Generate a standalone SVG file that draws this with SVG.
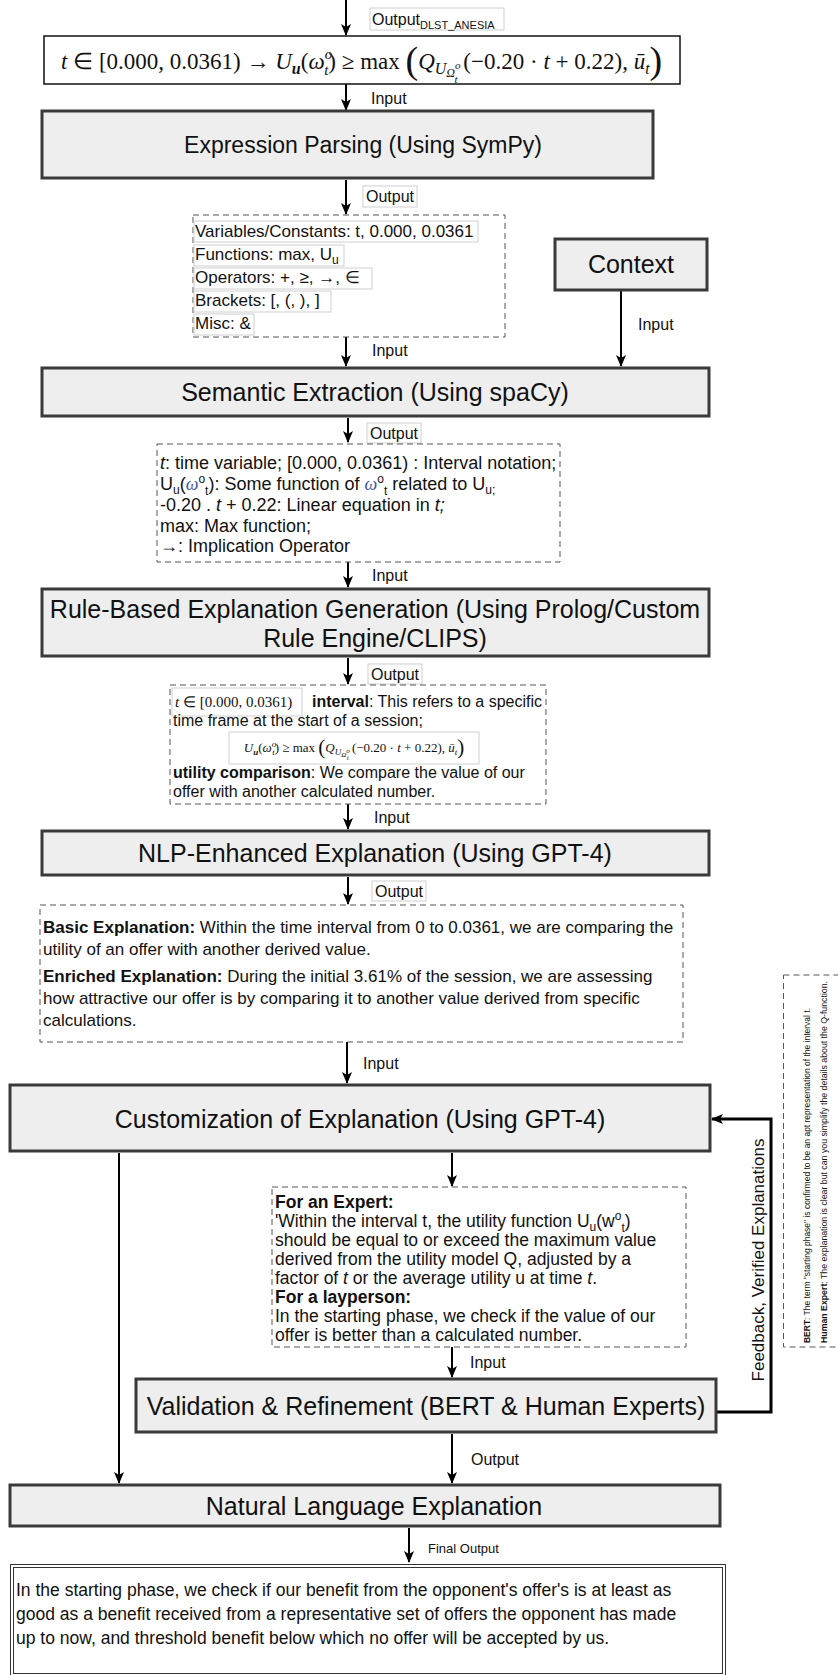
<svg xmlns="http://www.w3.org/2000/svg" width="838" height="1675" viewBox="0 0 838 1675">
<defs>
<marker id="arr" viewBox="0 0 12 12" refX="11" refY="6" markerWidth="12" markerHeight="12" markerUnits="userSpaceOnUse" orient="auto"><path d="M0,1 L12,6 L0,11 L3,6 z" fill="#000"/></marker>
<style>
text{font-family:"Liberation Sans",Arial,Helvetica,sans-serif;fill:#111}
.proc{fill:#eeeeee;stroke:#3a3a3a;stroke-width:3}
.dash{fill:none;stroke:#555;stroke-width:1;stroke-dasharray:6 4}
.lb{fill:#fff;stroke:#cfcfcf;stroke-width:1}
.ttl{font-size:25px;text-anchor:middle}
.lab{font-size:16px}
.conn{fill:none;stroke:#000;stroke-width:2;marker-end:url(#arr)}
.math{font-family:"Liberation Serif","Times New Roman",serif}
.it{font-style:italic}
.b{font-weight:bold}
.om{font-family:"Liberation Serif",serif;font-style:italic;fill:#3b55a8}
</style>
</defs>
<rect width="838" height="1675" fill="#fff"/>

<g id="connectors">
<line class="conn" x1="346" y1="0" x2="346" y2="35"/>
<rect class="lb" x="370" y="8" width="134" height="22"/>
<text class="lab" x="372" y="25">Output<tspan font-size="11" dy="4">DLST_ANESIA</tspan></text>
<line class="conn" x1="346" y1="84" x2="346" y2="110"/>
<text class="lab" x="371" y="104">Input</text>
<line class="conn" x1="346" y1="180" x2="346" y2="214"/>
<rect class="lb" x="363" y="186" width="54" height="21"/>
<text class="lab" x="366" y="202">Output</text>
<line class="conn" x1="621" y1="291" x2="621" y2="366"/>
<text class="lab" x="638" y="330">Input</text>
<line class="conn" x1="346" y1="337" x2="346" y2="366"/>
<text class="lab" x="372" y="356">Input</text>
<line class="conn" x1="348" y1="418" x2="348" y2="442"/>
<rect class="lb" x="367" y="423" width="54" height="20"/>
<text class="lab" x="370" y="439">Output</text>
<line class="conn" x1="348" y1="562" x2="348" y2="587"/>
<text class="lab" x="372" y="581">Input</text>
<line class="conn" x1="348" y1="658" x2="348" y2="684"/>
<rect class="lb" x="368" y="664" width="54" height="20"/>
<text class="lab" x="371" y="680">Output</text>
<line class="conn" x1="348" y1="804" x2="348" y2="829"/>
<text class="lab" x="374" y="823">Input</text>
<line class="conn" x1="348" y1="877" x2="348" y2="904"/>
<rect class="lb" x="372" y="881" width="54" height="20"/>
<text class="lab" x="375" y="897">Output</text>
<line class="conn" x1="347" y1="1042" x2="347" y2="1083"/>
<text class="lab" x="363" y="1069">Input</text>
<line class="conn" x1="119" y1="1153" x2="119" y2="1483"/>
<text class="lab" x="48" y="1142">Output</text>
<line class="conn" x1="452" y1="1153" x2="452" y2="1186"/>
<text class="lab" x="477" y="1147">Output</text>
<line class="conn" x1="452" y1="1347" x2="452" y2="1377"/>
<text class="lab" x="470" y="1368">Input</text>
<polyline class="conn" style="stroke-width:3" points="717,1412 771,1412 771,1119 712,1119"/>
<text x="764" y="1260" text-anchor="middle" transform="rotate(-90 764 1260)" style="font-size:17px">Feedback, Verified Explanations</text>
<line class="conn" x1="452" y1="1434" x2="452" y2="1483"/>
<text class="lab" x="471" y="1465">Output</text>
<line class="conn" x1="409" y1="1528" x2="409" y2="1562"/>
<text class="lab" x="428" y="1553" style="font-size:13px">Final Output</text>
</g>

<g id="formula">
<rect x="44" y="36" width="636" height="48" fill="#fff" stroke="#111" stroke-width="1.5"/>
<text class="math" x="61" y="69" font-size="23"><tspan class="it">t</tspan><tspan> ∈ [0.000, 0.0361) → </tspan><tspan class="it">U</tspan><tspan font-size="16" class="it b" dy="5">u</tspan><tspan dy="-5">(</tspan><tspan class="it">ω</tspan><tspan font-size="15" class="it" dy="-10">o</tspan><tspan font-size="15" class="it" dx="-8" dy="16">t</tspan><tspan dy="-6">) ≥ max </tspan><tspan font-size="38" dy="4">(</tspan><tspan class="it" dy="-4">Q</tspan><tspan font-size="16" class="it" dy="5">U</tspan><tspan font-size="12" class="it" dy="3">Ω</tspan><tspan font-size="11" class="it" dy="-8">o</tspan><tspan font-size="11" class="it" dx="-6" dy="14">t</tspan><tspan dy="-14"> (−0.20 · </tspan><tspan class="it">t</tspan><tspan> + 0.22), </tspan><tspan class="it">ū</tspan><tspan font-size="16" class="it" dy="5">t</tspan><tspan font-size="38" dy="-1">)</tspan></text>
</g>

<g id="expression-parsing">
<rect class="proc" x="42" y="111" width="611" height="67"/>
<text x="363" y="153" style="font-size:23px;text-anchor:middle">Expression Parsing (Using SymPy)</text>
</g>

<g id="tokens">
<rect class="dash" x="193" y="215" width="312" height="122"/>
<rect class="lb" x="194" y="221" width="284" height="21"/>
<rect class="lb" x="194" y="245" width="150" height="21"/>
<rect class="lb" x="194" y="268" width="178" height="21"/>
<rect class="lb" x="194" y="291" width="137" height="21"/>
<rect class="lb" x="194" y="314" width="60" height="21"/>
<g style="font-size:17px">
<text x="195" y="237">Variables/Constants: t, 0.000, 0.0361</text>
<text x="195" y="260">Functions: max, U<tspan font-size="12" dy="4">u</tspan></text>
<text x="195" y="283">Operators: +, ≥, →, ∈</text>
<text x="195" y="306">Brackets: [, (, ), ]</text>
<text x="195" y="329">Misc: &amp;</text>
</g>
</g>

<g id="context">
<rect class="proc" x="555" y="239" width="152" height="51"/>
<text class="ttl" x="631" y="273">Context</text>
</g>

<g id="semantic-extraction">
<rect class="proc" x="42" y="368" width="667" height="48"/>
<text class="ttl" x="375" y="401">Semantic Extraction (Using spaCy)</text>
</g>

<g id="semantics">
<rect class="dash" x="157" y="444" width="403" height="118"/>
<g style="font-size:18px">
<text x="160" y="469"><tspan class="it">t</tspan>: time variable; [0.000, 0.0361) : Interval notation;</text>
<text x="160" y="490">U<tspan font-size="12" dy="4">u</tspan><tspan dy="-4">(</tspan><tspan class="om">ω</tspan><tspan font-size="12" dy="-7">o</tspan><tspan font-size="12" dy="12">t</tspan><tspan dy="-5">): Some function of </tspan><tspan class="om">ω</tspan><tspan font-size="12" dy="-7">o</tspan><tspan font-size="12" dy="12">t</tspan><tspan dy="-5"> related to  U</tspan><tspan font-size="12" dy="4">u;</tspan></text>
<text x="160" y="511">-0.20 . <tspan class="it">t</tspan> + 0.22: Linear equation in <tspan class="it">t;</tspan></text>
<text x="160" y="532">max: Max function;</text>
<text x="160" y="552">→: Implication Operator</text>
</g>
</g>

<g id="rule-based">
<rect class="proc" x="42" y="589" width="667" height="67"/>
<text class="ttl" x="375" y="618">Rule-Based Explanation Generation (Using Prolog/Custom</text>
<text class="ttl" x="375" y="647">Rule Engine/CLIPS)</text>
</g>

<g id="rules">
<rect class="dash" x="170" y="685" width="376" height="119"/>
<rect class="lb" x="172" y="688" width="130" height="28"/>
<text class="math" x="175" y="707" font-size="15"><tspan class="it">t</tspan> ∈ [0.000, 0.0361)</text>
<g style="font-size:16px">
<text x="312" y="707"><tspan class="b">interval</tspan>: This refers to a specific</text>
<text x="173" y="726">time frame at the start of a session;</text>
<text x="173" y="778"><tspan class="b">utility comparison</tspan>: We compare the value of our</text>
<text x="173" y="797">offer with another calculated number.</text>
</g>
<rect class="lb" x="229" y="732" width="250" height="32"/>
<text class="math" x="354" y="752" font-size="13" text-anchor="middle"><tspan class="it">U</tspan><tspan font-size="9" class="it b" dy="3">u</tspan><tspan dy="-3">(</tspan><tspan class="it">ω</tspan><tspan font-size="9" class="it" dy="-5">o</tspan><tspan font-size="9" class="it" dx="-4" dy="8">t</tspan><tspan dy="-3">) ≥ max </tspan><tspan font-size="21" dy="2">(</tspan><tspan class="it" dy="-2">Q</tspan><tspan font-size="9" class="it" dy="3">U</tspan><tspan font-size="7" class="it" dy="2">Ω</tspan><tspan font-size="7" class="it" dy="-4">o</tspan><tspan font-size="7" class="it" dx="-3" dy="7">t</tspan><tspan dy="-8"> (−0.20 · </tspan><tspan class="it">t</tspan><tspan> + 0.22), </tspan><tspan class="it">ū</tspan><tspan font-size="9" class="it" dy="3">t</tspan><tspan font-size="21" dy="-1">)</tspan></text>
</g>

<g id="nlp-enhanced">
<rect class="proc" x="42" y="831" width="667" height="44"/>
<text class="ttl" x="375" y="862">NLP-Enhanced Explanation (Using GPT-4)</text>
</g>

<g id="explanations">
<rect class="dash" x="40" y="905" width="643" height="137"/>
<g style="font-size:17px">
<text x="43" y="933"><tspan class="b">Basic Explanation:</tspan> Within the time interval from 0 to 0.0361, we are comparing the</text>
<text x="43" y="955">utility of an offer with another derived value.</text>
<text x="43" y="982"><tspan class="b">Enriched Explanation:</tspan> During the initial 3.61% of the session, we are assessing</text>
<text x="43" y="1004">how attractive our offer is by comparing it to another value derived from specific</text>
<text x="43" y="1026">calculations.</text>
</g>
</g>

<g id="customization">
<rect class="proc" x="10" y="1085" width="700" height="66"/>
<text class="ttl" x="360" y="1128">Customization of Explanation (Using GPT-4)</text>
</g>

<g id="audience">
<rect class="dash" x="272" y="1187" width="414" height="160"/>
<g style="font-size:17.5px">
<text x="275" y="1208" class="b">For an Expert:</text>
<text x="275" y="1227">'Within the interval t, the utility function U<tspan font-size="12" dy="4">u</tspan><tspan dy="-4">(w</tspan><tspan font-size="12" dy="-7">o</tspan><tspan font-size="12" dy="12">t</tspan><tspan dy="-5">)</tspan></text>
<text x="275" y="1246">should be equal to or exceed the maximum value</text>
<text x="275" y="1265">derived from the utility model Q, adjusted by a</text>
<text x="275" y="1284">factor of <tspan class="it">t</tspan> or the average utility u at time <tspan class="it">t</tspan>.</text>
<text x="275" y="1303" class="b">For a layperson:</text>
<text x="275" y="1322">In the starting phase, we check if the value of our</text>
<text x="275" y="1341">offer is better than a calculated number.</text>
</g>
</g>

<g id="validation">
<rect class="proc" x="136" y="1379" width="580" height="53"/>
<text class="ttl" x="426" y="1415">Validation &amp; Refinement (BERT &amp; Human Experts)</text>
</g>

<g id="feedback-note">
<rect class="dash" x="783.5" y="975" width="60" height="372"/>
<g style="font-size:9px">
<text x="810" y="1343" transform="rotate(-90 810 1343)" textLength="335" lengthAdjust="spacingAndGlyphs"><tspan class="b">BERT</tspan>: The term "starting phase" is confirmed to be an apt representation of the interval t.</text>
<text x="827" y="1343" transform="rotate(-90 827 1343)" textLength="362" lengthAdjust="spacingAndGlyphs"><tspan class="b">Human Expert</tspan>: The explanation is clear but can you simplify the details about the Q-function.</text>
</g>
</g>

<g id="natural-language">
<rect class="proc" x="10" y="1485" width="710" height="41"/>
<text class="ttl" x="374" y="1515">Natural Language Explanation</text>
</g>

<g id="final-output">
<rect x="10.5" y="1564.5" width="715" height="112" fill="#fff" stroke="#333" stroke-width="1"/>
<rect x="13.5" y="1567.5" width="709" height="106" fill="none" stroke="#333" stroke-width="1"/>
<g style="font-size:17.5px">
<text x="16" y="1596">In the starting phase, we check if our benefit from the opponent's offer's is at least as</text>
<text x="16" y="1620">good as a benefit received from a representative set of offers the opponent has made</text>
<text x="16" y="1644">up to now, and threshold benefit below which no offer will be accepted by us.</text>
</g>
</g>
</svg>
